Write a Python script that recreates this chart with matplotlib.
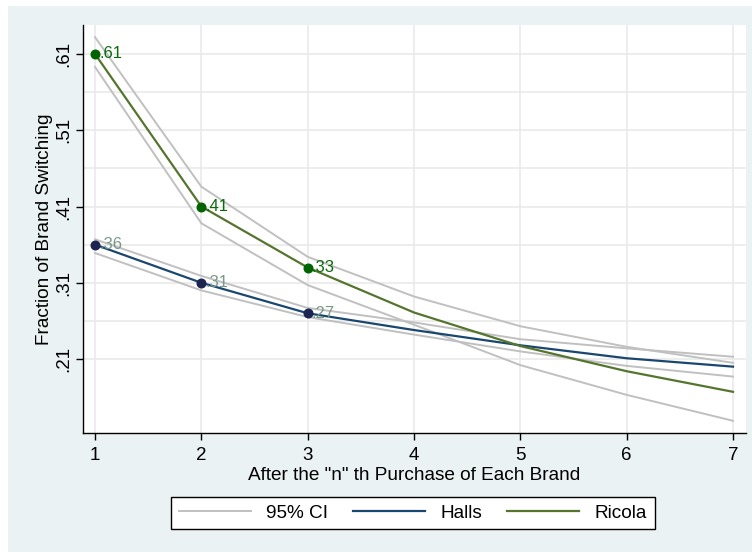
import matplotlib
matplotlib.use("Agg")
import matplotlib.pyplot as plt
from matplotlib.patches import Rectangle
from matplotlib.lines import Line2D

plt.rcParams['font.family'] = ['Liberation Sans', 'DejaVu Sans']

# ---- data ----
purchase = [1, 2, 3, 4, 5, 6, 7]
halls = [0.36, 0.31, 0.27, 0.248, 0.228, 0.211, 0.200]
halls_hi = [0.367, 0.319, 0.277, 0.258, 0.236, 0.224, 0.213]
halls_lo = [0.349, 0.300, 0.265, 0.242, 0.220, 0.201, 0.187]
ricola = [0.61, 0.41, 0.33, 0.271, 0.227, 0.194, 0.167]
ricola_hi = [0.632, 0.436, 0.344, 0.292, 0.253, 0.226, 0.205]
ricola_lo = [0.593, 0.388, 0.307, 0.255, 0.202, 0.163, 0.129]
labeled_x = [1, 2, 3]
halls_labeled = [0.36, 0.31, 0.27]
ricola_labeled = [0.61, 0.41, 0.33]
yticks = [0.21, 0.31, 0.41, 0.51, 0.61]
ytick_labels = [".21", ".31", ".41", ".51", ".61"]
ygrid = [0.21, 0.26, 0.31, 0.36, 0.41, 0.46, 0.51, 0.56, 0.61]

CI_C = '#c0c0c0'
HALLS_C = '#1a476f'
RICOLA_C = '#55752f'
HALLS_M = '#1c2552'
RICOLA_M = '#006400'
HALLS_T = '#7a9888'
RICOLA_T = '#0a6b0a'
BG = '#eaf2f3'

fig = plt.figure(figsize=(7.52, 5.52), dpi=100, facecolor='white')
fig.patches.append(Rectangle((8/752, 0), 1 - 8/752, 1 - 6/552, transform=fig.transFigure,
                             facecolor=BG, edgecolor='none', zorder=-10))

ax = fig.add_axes([83/752, 1 - 433/552, 663/752, 408/552])
ax.set_facecolor('white')

ax.set_xlim(0.887, 7.122)
ax.set_ylim(0.113, 0.648)

for g in ygrid:
    ax.axhline(g, color='#eaeaea', lw=1.2, zorder=0)
for xv in purchase:
    ax.axvline(xv, color='#eaeaea', lw=1.2, zorder=0)

ax.plot(purchase, halls_hi, color=CI_C, lw=1.4, zorder=2)
ax.plot(purchase, halls_lo, color=CI_C, lw=1.4, zorder=2)
ax.plot(purchase, ricola_hi, color=CI_C, lw=1.4, zorder=2)
ax.plot(purchase, ricola_lo, color=CI_C, lw=1.4, zorder=2)
ax.plot(purchase, halls, color=HALLS_C, lw=1.6, zorder=3)
ax.plot(purchase, ricola, color=RICOLA_C, lw=1.6, zorder=3)

ax.plot(labeled_x, halls_labeled, 'o', color=HALLS_M, ms=6.2, zorder=4)
ax.plot(labeled_x, ricola_labeled, 'o', color=RICOLA_M, ms=6.2, zorder=4)
for xv, yv in zip(labeled_x, halls_labeled):
    ax.annotate(("%.2f" % yv).lstrip('0'), (xv, yv), xytext=(3, 0), textcoords='offset points',
                va='center', ha='left', color=HALLS_T, fontsize=12, zorder=5)
for xv, yv in zip(labeled_x, ricola_labeled):
    ax.annotate(("%.2f" % yv).lstrip('0'), (xv, yv), xytext=(3, 0), textcoords='offset points',
                va='center', ha='left', color=RICOLA_T, fontsize=12, zorder=5)

ax.spines['top'].set_visible(False)
ax.spines['right'].set_visible(False)
for s in ('left', 'bottom'):
    ax.spines[s].set_color('black')
    ax.spines[s].set_linewidth(1.0)

ax.set_xticks(purchase)
ax.set_xticklabels([str(p) for p in purchase], fontsize=13.5)
ax.set_yticks(yticks)
ax.set_yticklabels(ytick_labels, fontsize=13.5, rotation=90, va='center')
ax.tick_params(axis='x', direction='out', length=5, width=1, color='black', pad=5)
ax.tick_params(axis='y', direction='out', length=5, width=1, color='black', pad=3)

ax.set_xlabel('After the "n" th Purchase of Each Brand', fontsize=13.7, labelpad=2)
ax.set_ylabel('Fraction of Brand Switching', fontsize=13.7, labelpad=1)

handles = [Line2D([], [], color=CI_C, lw=1.4),
           Line2D([], [], color=HALLS_C, lw=1.6),
           Line2D([], [], color=RICOLA_C, lw=1.6)]
leg = fig.legend(handles, ['95% CI', 'Halls', 'Ricola'], loc='center',
                 bbox_to_anchor=(413/752, 1 - 513/552), ncol=3, fontsize=13.7,
                 frameon=True, fancybox=False, edgecolor='black', facecolor='white',
                 handlelength=3.8, handletextpad=0.8, columnspacing=1.3,
                 borderpad=0.4, framealpha=1)
leg.get_frame().set_linewidth(1.0)

fig.savefig('out.png', dpi=100, facecolor=fig.get_facecolor())
